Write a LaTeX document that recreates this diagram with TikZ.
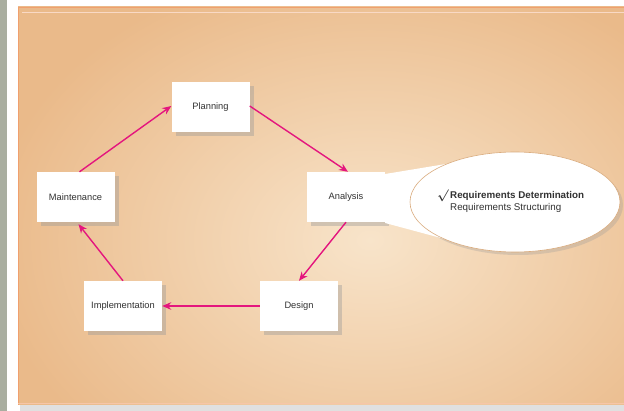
\documentclass[tikz,border=0pt]{standalone}
\usepackage{fontspec}
\setmainfont{Liberation Sans}
\usetikzlibrary{arrows.meta,shadows,shapes.geometric}
\definecolor{panelin}{RGB}{248,228,202}
\definecolor{panelout}{RGB}{234,186,138}
\definecolor{panelline}{RGB}{240,160,110}
\definecolor{strip}{RGB}{169,174,160}
\definecolor{flow}{RGB}{228,22,126}
\definecolor{txt}{RGB}{50,50,50}
\definecolor{ellline}{RGB}{218,172,126}
\tikzset{
  stagebox/.style={draw=none, fill=white, minimum width=78pt, minimum height=50pt,
    inner sep=0pt, text=txt, font=\fontsize{9.3}{11}\selectfont,
    drop shadow={shadow xshift=4pt, shadow yshift=-4pt, fill=black!40, opacity=0.4}},
  flowarrow/.style={draw=flow, line width=1.4pt, -{Stealth[length=9pt,width=7.5pt]}}
}
\begin{document}
\begin{tikzpicture}[x=1pt,y=-1pt]
\useasboundingbox (0,0) rectangle (624,411);
% page
\fill[white] (0,0) rectangle (624,411);
\fill[strip] (0,0) rectangle (7,411);
% panel shadow
\fill[black!12] (20,404) rectangle (624,411);
% panel
\begin{scope}
\clip (18,7) rectangle (624,405);
\shade[inner color=panelin, outer color=panelout] (-10,-40) rectangle (750,520);
\end{scope}
\draw[panelline, line width=0.8pt] (624,7) -- (18,7) -- (18,405);
\draw[panelline!40, line width=0.5pt] (22,12) -- (624,12);
\draw[panelline!60, line width=0.5pt] (18,403) -- (624,403);
% stages
\node[stagebox] (plan) at (210.5,107) {Planning};
\node[stagebox] (maint) at (75.5,197) {Maintenance};
\node[stagebox] (anal) at (346,197) {Analysis};
\node[stagebox] (impl) at (123,306) {Implementation};
\node[stagebox] (des) at (299,306) {Design};
% ellipse
\node[ellipse, fill=white, draw=none, minimum width=210pt, minimum height=100pt, inner sep=0pt,
  drop shadow={shadow xshift=3pt, shadow yshift=-3pt, fill=black!40, opacity=0.3}] (ell) at (515,202) {};
% callout wedge
\fill[white] ([yshift=23pt]anal.east) -- (452,163) -- (478,248) -- ([yshift=-26pt]anal.east) -- cycle;
\draw[ellline, line width=0.6pt] (ell.center) ellipse [x radius=105, y radius=50];
\node[anchor=west, inner sep=0pt, align=left, text=txt, font=\fontsize{9.8}{12}\selectfont] (req) at (450,201)
  {\llap{\large\mathversion{bold}$\surd$\hspace{1.5pt}}\textbf{Requirements Determination}\\ Requirements Structuring};
% arrows
\draw[flowarrow] ([xshift=4pt]maint.north) -- ([yshift=1pt]plan.west);
\draw[flowarrow] ([yshift=1pt]plan.east) -- ([xshift=2pt]anal.north);
\draw[flowarrow] (anal.south) -- (des.north);
\draw[flowarrow] (des.west) -- (impl.east);
\draw[flowarrow] (impl.north) -- ([xshift=3pt,yshift=-2pt]maint.south);
\end{tikzpicture}
\end{document}
